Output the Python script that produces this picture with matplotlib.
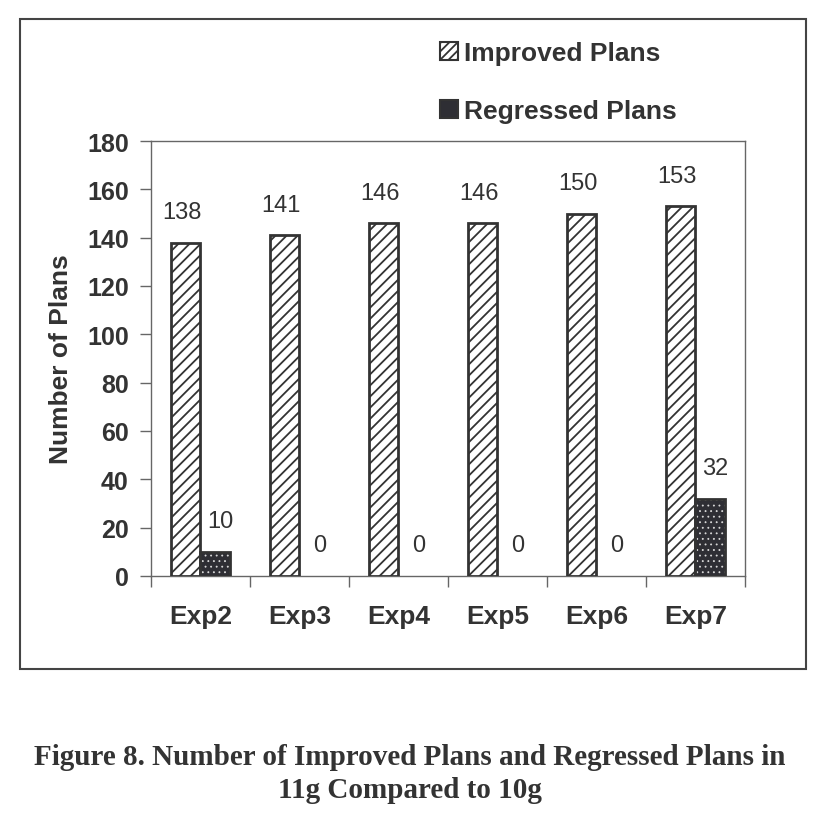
import numpy as np
import matplotlib
matplotlib.use("Agg")
import matplotlib.pyplot as plt
from matplotlib.patches import Rectangle

# Data
categories = ["Exp2", "Exp3", "Exp4", "Exp5", "Exp6", "Exp7"]
improved = [138, 141, 146, 146, 150, 153]
regressed = [10, 0, 0, 0, 0, 32]
yticks = [0, 20, 40, 60, 80, 100, 120, 140, 160, 180]

DARK = "#333333"
plt.rcParams["font.family"] = ["Liberation Sans", "DejaVu Sans"]
plt.rcParams["hatch.linewidth"] = 1.3

fig = plt.figure(figsize=(8.2, 8.28), dpi=100)
ax = fig.add_axes([151 / 820, 1 - 577 / 828, (745 - 151) / 820, (577 - 142) / 828])

x = np.arange(len(categories))
w = 0.295

# improved plans: diagonal hatch on white
ax.bar(x - w / 2, improved, w, facecolor="white", edgecolor=DARK,
       hatch="///", linewidth=2.0, zorder=3)

# regressed plans: dark fill with small white dots, then outline on top
with plt.rc_context({"hatch.linewidth": 0.6}):
    ax.bar(x + w / 2, regressed, w, facecolor="#2e2e34", edgecolor="#d8d8d8",
           hatch="...", linewidth=0, zorder=3)
outline = [DARK if v > 0 else "none" for v in regressed]
ax.bar(x + w / 2, regressed, w, fill=False, edgecolor=outline,
       linewidth=2.0, zorder=4)

# value labels
for i in range(len(categories)):
    ax.annotate(str(improved[i]), (x[i] - w / 2, improved[i]),
                xytext=(-3, 22), textcoords="offset points",
                ha="center", va="center", fontsize=17, color=DARK)
    ax.annotate(str(regressed[i]), (x[i] + w / 2, regressed[i]),
                xytext=(4, 22), textcoords="offset points",
                ha="center", va="center", fontsize=17, color=DARK)

ax.set_xlim(-0.5, len(categories) - 0.5)
ax.set_ylim(0, 180)
ax.set_yticks(yticks)
ax.set_yticklabels([str(v) for v in yticks], fontsize=18, fontweight="bold", color=DARK)
ax.set_xticks(x)
ax.set_xticklabels(categories, fontsize=19, fontweight="bold", color=DARK)
ax.set_xticks(np.arange(len(categories) + 1) - 0.5, minor=True)
ax.tick_params(axis="x", which="major", length=0, pad=20)
ax.tick_params(axis="x", which="minor", length=8, width=1, color="#666666", direction="out")
ax.tick_params(axis="y", length=8, width=1, color="#666666", direction="out", pad=8)

for s in ax.spines.values():
    s.set_color("#666666")
    s.set_linewidth(1.0)

ax.set_ylabel("Number of Plans", fontsize=19, fontweight="bold", color=DARK, labelpad=10)

# legend above the plot area
handles = [Rectangle((0, 0), 1, 1, facecolor="white", edgecolor=DARK, hatch="////", linewidth=1.5),
           Rectangle((0, 0), 1, 1, facecolor="#2e2e34", edgecolor=DARK, linewidth=1.5)]
fig.legend(handles, ["Improved Plans", "Regressed Plans"], loc="upper left",
           bbox_to_anchor=(440 / 820, 1 - 42 / 828), frameon=False,
           prop={"size": 19, "weight": "bold"}, labelcolor=DARK,
           handlelength=0.7, handleheight=0.7, handletextpad=0.2,
           labelspacing=1.3, borderpad=0, borderaxespad=0)

# outer frame
fig.add_artist(Rectangle((20 / 820, 1 - 670 / 828), (806 - 20) / 820, (670 - 20) / 828,
                         transform=fig.transFigure, fill=False, edgecolor="#444444",
                         linewidth=1.5))

# caption
cap_font = ["Liberation Serif", "DejaVu Serif"]
fig.text(0.5, 1 - 758 / 828, "Figure 8. Number of Improved Plans and Regressed Plans in",
         ha="center", va="center", fontsize=21, fontweight="bold",
         family=cap_font, color=DARK)
fig.text(0.5, 1 - 791 / 828, "11g Compared to 10g",
         ha="center", va="center", fontsize=21, fontweight="bold",
         family=cap_font, color=DARK)

fig.savefig("out.png", dpi=100)
